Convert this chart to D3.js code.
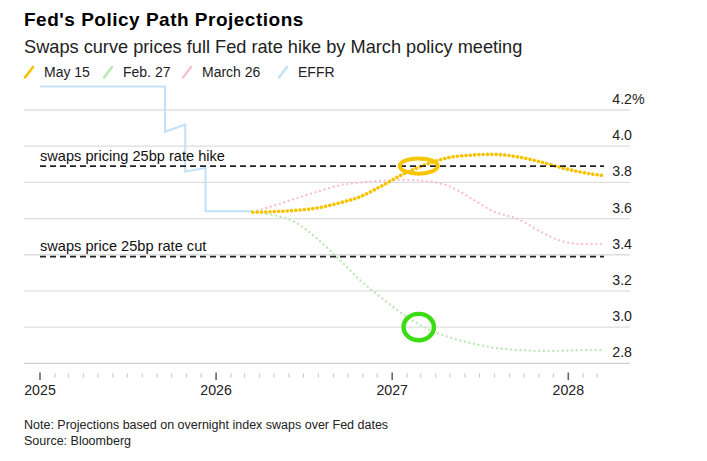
<!DOCTYPE html>
<html>
<head>
<meta charset="utf-8">
<script src="https://cdn.jsdelivr.net/npm/d3@7"></script>
<style>
  body { margin: 0; background: #fff; }
  svg { display: block; font-family: 'Liberation Sans', Arial, Helvetica, sans-serif; }
</style>
</head>
<body>
<div id="chart"></div>
<script>
const parse = d3.timeParse('%Y-%m-%d');

// EFFR history (repeated dates make the steps)
const effrDates = ['2025-01-01', '2025-09-17', '2025-09-17', '2025-10-29', '2025-10-29', '2025-12-10', '2025-12-10', '2026-03-18'];
const effrValues = [4.33, 4.33, 4.08, 4.12, 3.86, 3.88, 3.64, 3.64];

// projections over Fed meeting dates
const meetingDates = ['2026-03-18', '2026-04-29', '2026-06-17', '2026-07-29', '2026-09-16', '2026-10-28', '2026-12-09',
  '2027-01-27', '2027-03-17', '2027-04-28', '2027-06-16', '2027-07-28', '2027-09-22', '2027-11-03', '2027-12-15',
  '2028-01-26', '2028-03-15'];
const may15 = [3.635, 3.638, 3.646, 3.658, 3.688, 3.722, 3.779, 3.850, 3.903, 3.937, 3.951, 3.955, 3.939, 3.914, 3.883, 3.857, 3.837];
const feb27 = [3.635, 3.620, 3.575, 3.490, 3.367, 3.256, 3.164, 3.064, 2.988, 2.945, 2.910, 2.887, 2.873, 2.868, 2.869, 2.872, 2.874];
const march26 = [3.635, 3.670, 3.712, 3.748, 3.785, 3.800, 3.808, 3.813, 3.805, 3.780, 3.708, 3.642, 3.593, 3.530, 3.478, 3.460, 3.459];

const yTicks = [2.8, 3.0, 3.2, 3.4, 3.6, 3.8, 4.0, 4.2];
const xYears = [2025, 2026, 2027, 2028];

const legendLabels = ['May 15', 'Feb. 27', 'March 26', 'EFFR'];
const legendColors = ['#f7c200', '#bde7b6', '#f9c0d2', '#c3e1f7'];

const refValues = [3.89, 3.39];
const refLabels = ['swaps pricing 25bp rate hike', 'swaps price 25bp rate cut'];
const refStart = '2025-01-01';
const refEnd = '2028-03-15';

const markDate = '2027-02-25';
const markValues = [3.89, 3.0];

const width = 707;
const height = 461;
const gridLeft = 24;
const gridRight = 630;
const legendX = [25, 104, 183, 279];

const svg = d3.select('#chart')
  .append('svg')
  .attr('width', width)
  .attr('height', height);

const x = d3.scaleTime()
  .domain([parse('2025-01-01'), parse('2028-01-01')])
  .range([40, 568.3]);

const y = d3.scaleLinear()
  .domain([2.8, 4.2])
  .range([363.3, 110]);

// title block
svg.append('text')
  .attr('x', 24).attr('y', 25.5)
  .attr('font-size', 19).attr('font-weight', 'bold')
  .attr('letter-spacing', 0.5)
  .attr('fill', '#000')
  .text("Fed's Policy Path Projections");

svg.append('text')
  .attr('x', 24).attr('y', 52.5)
  .attr('font-size', 18.2)
  .attr('fill', '#222')
  .text('Swaps curve prices full Fed rate hike by March policy meeting');

// legend
legendLabels.forEach((label, i) => {
  const lx = legendX[i];
  svg.append('line')
    .attr('x1', lx).attr('y1', 77.5)
    .attr('x2', lx + 8).attr('y2', 67)
    .attr('stroke', legendColors[i])
    .attr('stroke-width', 2.6)
    .attr('stroke-linecap', 'round');
  svg.append('text')
    .attr('x', lx + 19).attr('y', 76.5)
    .attr('font-size', 14)
    .attr('fill', '#222')
    .text(label);
});

// grid
const grid = svg.append('g');
grid.selectAll('line')
  .data(yTicks)
  .enter()
  .append('line')
  .attr('x1', gridLeft).attr('x2', gridRight)
  .attr('y1', (d) => y(d)).attr('y2', (d) => y(d))
  .attr('stroke', (d) => (d === 2.8 ? '#cfcfcf' : '#dedede'))
  .attr('stroke-width', 1.3);

grid.selectAll('text')
  .data(yTicks)
  .enter()
  .append('text')
  .attr('x', 632)
  .attr('y', (d) => y(d) - 6)
  .attr('text-anchor', 'end')
  .attr('font-size', 14.2)
  .attr('fill', '#222')
  .text((d) => d.toFixed(1));

svg.append('text')
  .attr('x', 632)
  .attr('y', y(4.2) - 6)
  .attr('font-size', 14.2)
  .attr('fill', '#222')
  .text('%');

// x axis ticks, monthly
const months = d3.timeMonth.range(parse('2025-01-01'), parse('2028-03-02'));
svg.append('g')
  .selectAll('line')
  .data(months)
  .enter()
  .append('line')
  .attr('x1', (d) => x(d)).attr('x2', (d) => x(d))
  .attr('y1', (d) => (d.getMonth() === 0 ? 372.5 : 373.5))
  .attr('y2', (d) => (d.getMonth() === 0 ? 380 : 377.5))
  .attr('stroke', (d) => (d.getMonth() === 0 ? '#666' : '#c8c8c8'))
  .attr('stroke-width', (d) => (d.getMonth() === 0 ? 1.6 : 1.1));

svg.append('g')
  .selectAll('text')
  .data(xYears)
  .enter()
  .append('text')
  .attr('x', (d) => x(new Date(d, 0, 1)))
  .attr('y', 394.5)
  .attr('text-anchor', 'middle')
  .attr('font-size', 14.2)
  .attr('fill', '#222')
  .text((d) => d);

// series
const line = d3.line()
  .x((d) => x(d.date))
  .y((d) => y(d.value));

const effr = effrDates.map((d, i) => ({ date: parse(d), value: effrValues[i] }));
svg.append('path')
  .datum(effr)
  .attr('fill', 'none')
  .attr('stroke', '#c3e1f7')
  .attr('stroke-width', 2)
  .attr('d', line);

const proj = (values) => meetingDates.map((d, i) => ({ date: parse(d), value: values[i] }));
const smooth = line.curve(d3.curveMonotoneX);

svg.append('path')
  .datum(proj(feb27))
  .attr('fill', 'none')
  .attr('stroke', '#bde7b6')
  .attr('stroke-width', 2.3)
  .attr('stroke-linecap', 'round')
  .attr('stroke-dasharray', '0.1 4.6')
  .attr('d', smooth);

svg.append('path')
  .datum(proj(march26))
  .attr('fill', 'none')
  .attr('stroke', '#f9c0d2')
  .attr('stroke-width', 2.3)
  .attr('stroke-linecap', 'round')
  .attr('stroke-dasharray', '0.1 4.6')
  .attr('d', smooth);

svg.append('path')
  .datum(proj(may15))
  .attr('fill', 'none')
  .attr('stroke', '#f7c200')
  .attr('stroke-width', 3.6)
  .attr('stroke-linecap', 'round')
  .attr('stroke-dasharray', '0.1 4.2')
  .attr('d', smooth);

// reference lines
refValues.forEach((v, i) => {
  svg.append('line')
    .attr('x1', x(parse(refStart))).attr('x2', x(parse(refEnd)))
    .attr('y1', y(v)).attr('y2', y(v))
    .attr('stroke', '#222')
    .attr('stroke-width', 1.8)
    .attr('stroke-dasharray', '6 4');
  svg.append('text')
    .attr('x', 40)
    .attr('y', y(v) - 5.5)
    .attr('font-size', 14.6)
    .attr('fill', '#111')
    .text(refLabels[i]);
});

// highlight rings
svg.append('ellipse')
  .attr('cx', x(parse(markDate))).attr('cy', y(markValues[0]))
  .attr('rx', 19).attr('ry', 7.6)
  .attr('fill', 'none')
  .attr('stroke', '#f7c600')
  .attr('stroke-width', 4);

svg.append('ellipse')
  .attr('cx', x(parse(markDate))).attr('cy', y(markValues[1]))
  .attr('rx', 15.2).attr('ry', 13.2)
  .attr('fill', 'none')
  .attr('stroke', '#3bdc12')
  .attr('stroke-width', 4.4);

// footer
svg.append('text')
  .attr('x', 24).attr('y', 429)
  .attr('font-size', 12.5)
  .attr('fill', '#222')
  .text('Note: Projections based on overnight index swaps over Fed dates');

svg.append('text')
  .attr('x', 24).attr('y', 445)
  .attr('font-size', 12.5)
  .attr('fill', '#222')
  .text('Source: Bloomberg');
</script>
</body>
</html>
